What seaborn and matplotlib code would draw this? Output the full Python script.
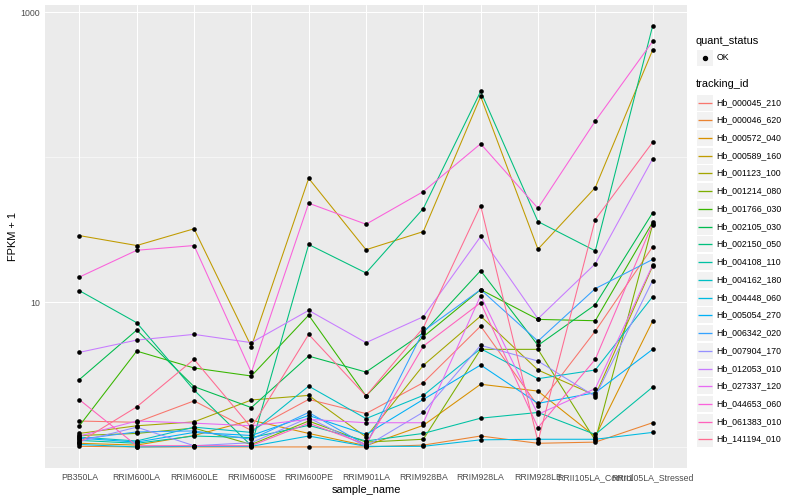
import numpy as np
import pandas as pd
import matplotlib
matplotlib.use("Agg")
import matplotlib.pyplot as plt
from matplotlib.patches import Rectangle
from matplotlib.lines import Line2D
import seaborn as sns

# ---------------- data ----------------
samples = ["PB350LA", "RRIM600LA", "RRIM600LE", "RRIM600SE", "RRIM600PE",
           "RRIM901LA", "RRIM928BA", "RRIM928LA", "RRIM928LE",
           "RRII105LA_Control", "RRII105LA_Stressed"]

genes = ["Hb_000045_210", "Hb_000046_620", "Hb_000572_040", "Hb_000589_160",
         "Hb_001123_100", "Hb_001214_080", "Hb_001766_030", "Hb_002105_030",
         "Hb_002150_050", "Hb_004108_110", "Hb_004162_180", "Hb_004448_060",
         "Hb_005054_270", "Hb_006342_020", "Hb_007904_170", "Hb_012053_010",
         "Hb_027337_120", "Hb_044653_060", "Hb_061383_010", "Hb_141194_010"]

# FPKM per gene, one value per sample (plotted as FPKM + 1)
fpkm_Hb_000045_210 = [0.51, 0.48, 1.08, 0.30, 1.13, 0.70, 1.78, 5.83, 0.92, 5.31, 23.1]
fpkm_Hb_000046_620 = [0.01, 0.00, 0.00, 0.00, 0.00, 0.00, 0.03, 0.19, 0.06, 0.08, 0.47]
fpkm_Hb_000572_040 = [0.06, 0.03, 0.20, 0.53, 0.24, 0.02, 0.41, 1.71, 1.43, 0.18, 6.40]
fpkm_Hb_000589_160 = [27.8, 23.6, 31.1, 3.93, 70.6, 22.0, 29.7, 262, 22.2, 60.8, 549]
fpkm_Hb_001123_100 = [0.24, 0.40, 0.49, 1.11, 1.27, 0.17, 2.66, 7.01, 2.40, 1.27, 16.7]
fpkm_Hb_001214_080 = [0.20, 0.24, 0.35, 0.04, 0.51, 0.08, 0.13, 3.72, 3.72, 0.11, 33.3]
fpkm_Hb_001766_030 = [0.40, 3.59, 2.51, 2.09, 7.13, 1.25, 4.77, 11.2, 6.60, 6.44, 34.6]
fpkm_Hb_002105_030 = [1.92, 5.41, 1.61, 0.87, 3.24, 2.29, 5.15, 15.5, 4.03, 8.60, 40.4]
fpkm_Hb_002150_050 = [11.0, 6.21, 1.47, 0.02, 24.0, 14.9, 43.3, 284, 35.0, 21.6, 805]
fpkm_Hb_004108_110 = [0.11, 0.06, 0.19, 0.16, 0.41, 0.10, 0.24, 0.58, 0.73, 0.22, 1.59]
fpkm_Hb_004162_180 = [0.17, 0.10, 0.37, 0.26, 1.63, 0.57, 1.27, 3.77, 1.96, 2.40, 9.90]
fpkm_Hb_004448_060 = [0.04, 0.00, 0.01, 0.01, 0.19, 0.01, 0.01, 0.12, 0.13, 0.13, 0.26]
fpkm_Hb_005054_270 = [0.15, 0.08, 0.26, 0.20, 0.65, 0.22, 1.13, 2.68, 1.00, 1.37, 3.72]
fpkm_Hb_006342_020 = [0.13, 0.27, 0.29, 0.13, 0.73, 0.03, 5.31, 11.2, 4.38, 11.4, 18.7]
fpkm_Hb_007904_170 = [0.09, 0.37, 0.02, 0.07, 0.59, 0.01, 0.74, 4.03, 2.92, 1.23, 13.1]
fpkm_Hb_012053_010 = [3.50, 4.47, 4.99, 4.25, 7.77, 4.25, 6.93, 27.4, 6.68, 17.4, 96.5]
fpkm_Hb_027337_120 = [0.19, 0.51, 0.46, 0.40, 0.55, 0.47, 0.47, 10.1, 0.68, 1.53, 17.0]
fpkm_Hb_044653_060 = [13.9, 21.8, 23.6, 2.27, 47.2, 33.5, 57.0, 123, 43.5, 177, 630]
fpkm_Hb_061383_010 = [1.12, 0.02, 0.02, 0.02, 0.46, 0.04, 3.97, 8.91, 0.36, 3.03, 33.9]
fpkm_Hb_141194_010 = [0.08, 0.89, 3.03, 0.36, 4.99, 1.25, 5.66, 45.4, 0.09, 36.2, 126]

series = [fpkm_Hb_000045_210, fpkm_Hb_000046_620, fpkm_Hb_000572_040, fpkm_Hb_000589_160,
          fpkm_Hb_001123_100, fpkm_Hb_001214_080, fpkm_Hb_001766_030, fpkm_Hb_002105_030,
          fpkm_Hb_002150_050, fpkm_Hb_004108_110, fpkm_Hb_004162_180, fpkm_Hb_004448_060,
          fpkm_Hb_005054_270, fpkm_Hb_006342_020, fpkm_Hb_007904_170, fpkm_Hb_012053_010,
          fpkm_Hb_027337_120, fpkm_Hb_044653_060, fpkm_Hb_061383_010, fpkm_Hb_141194_010]

quant_status = ["OK"]

# ggplot2 default hue palette for 20 levels
palette = ["#F8766D", "#EA8331", "#D89000", "#C09B00", "#A3A500", "#7CAE00",
           "#39B600", "#00BB4E", "#00BF7D", "#00C1A3", "#00BFC4", "#00BAE0",
           "#00B0F6", "#35A2FF", "#9590FF", "#C77CFF", "#E76BF3", "#FA62DB",
           "#FF62BC", "#FF6C91"]

rows = []
for g, vals in zip(genes, series):
    for s, v in zip(samples, vals):
        rows.append({"tracking_id": g, "sample_name": s, "fpkm1": v + 1.0,
                     "quant_status": "OK"})
df = pd.DataFrame(rows)
df["sample_name"] = pd.Categorical(df["sample_name"], categories=samples, ordered=True)
df["xpos"] = df["sample_name"].cat.codes

# ---------------- style ----------------
sns.set_theme(style="darkgrid")
plt.rcParams["font.family"] = ["Liberation Sans", "DejaVu Sans"]

PX = 72.0 / 100.0  # points per pixel at dpi 100
fig = plt.figure(figsize=(8, 5), dpi=100)
fig.patch.set_facecolor("white")

L, R, T, B = 45, 687, 5, 468
ax = fig.add_axes([L / 800, 1 - B / 500, (R - L) / 800, (B - T) / 500])
ax.set_facecolor("#EBEBEB")

pal = dict(zip(genes, palette))
sns.lineplot(data=df, x="xpos", y="fpkm1", hue="tracking_id", hue_order=genes,
             palette=pal, estimator=None, sort=True, linewidth=1.07 * PX,
             legend=False, ax=ax, zorder=3)
sns.scatterplot(data=df, x="xpos", y="fpkm1", color="black", s=(4.6 * PX) ** 2,
                linewidth=0, legend=False, ax=ax, zorder=4)

ax.set_yscale("log")
lo = np.log10(df["fpkm1"].min())
hi = np.log10(df["fpkm1"].max())
rng = hi - lo
ax.set_ylim(10 ** (lo - 0.05 * rng), 10 ** (hi + 0.05 * rng))
ax.set_xlim(-0.6, len(samples) - 1 + 0.6)

ax.set_xticks(range(len(samples)))
ax.set_xticklabels(samples)
ax.set_yticks([10, 1000])
ax.set_yticklabels(["10", "1000"])
ax.yaxis.set_minor_locator(matplotlib.ticker.FixedLocator([1, 100]))
ax.yaxis.set_minor_formatter(matplotlib.ticker.NullFormatter())
ax.xaxis.set_minor_locator(matplotlib.ticker.NullLocator())

ax.grid(False)
ax.set_axisbelow(True)
for xv in range(len(samples)):
    ax.axvline(xv, color="white", lw=1.07 * PX, zorder=1)
for yv in [10, 1000]:
    ax.axhline(yv, color="white", lw=1.07 * PX, zorder=1)
for yv in [1, 100]:
    ax.axhline(yv, color="white", lw=0.53 * PX, zorder=1)

for sp in ax.spines.values():
    sp.set_visible(False)

tick_fs = 8.8 * PX
title_fs = 11 * PX
ax.tick_params(axis="both", which="major", length=2.75 * PX, width=1.07 * PX,
               color="#333333", labelcolor="#4D4D4D", labelsize=tick_fs, pad=2.2 * PX)
ax.tick_params(axis="y", which="minor", length=0)
ax.set_xlabel("sample_name", fontsize=title_fs, color="black", labelpad=2.75 * PX)
ax.set_ylabel("FPKM + 1", fontsize=title_fs, color="black", labelpad=2.75 * PX)

# ---------------- legend (ggplot-like) ----------------
lax = fig.add_axes([688 / 800, 0, 112 / 800, 1])
lax.set_xlim(688, 800)
lax.set_ylim(500, 0)
lax.axis("off")

key = 16
kx = 697
lax.text(696, 40.7, "quant_status", fontsize=title_fs, va="center", ha="left", color="black")
cy = 57.5
lax.add_patch(Rectangle((kx, cy - key / 2), key, key, facecolor="#F2F2F2",
                        edgecolor="none", zorder=1))
lax.plot([kx + key / 2], [cy], marker="o", color="black", markersize=4.0 * PX,
         linestyle="none", zorder=3)
lax.text(716.3, cy, quant_status[0], fontsize=tick_fs, va="center", ha="left", color="black")

lax.text(696, 84.3, "tracking_id", fontsize=title_fs, va="center", ha="left", color="black")
first, last = 101.5, 438.5
step = (last - first) / (len(genes) - 1)
for i, (g, c) in enumerate(zip(genes, palette)):
    cy = round(first + i * step) + 0.5
    lax.add_patch(Rectangle((kx, cy - key / 2), key, key, facecolor="#F2F2F2",
                            edgecolor="none", zorder=1))
    lax.add_line(Line2D([kx + 1, kx + key - 1], [cy, cy], color=c, lw=1.3 * PX,
                        zorder=3, solid_capstyle="butt"))
    lax.text(716.7, cy, g, fontsize=tick_fs, va="center", ha="left", color="black")

fig.savefig("out.png", dpi=100)
